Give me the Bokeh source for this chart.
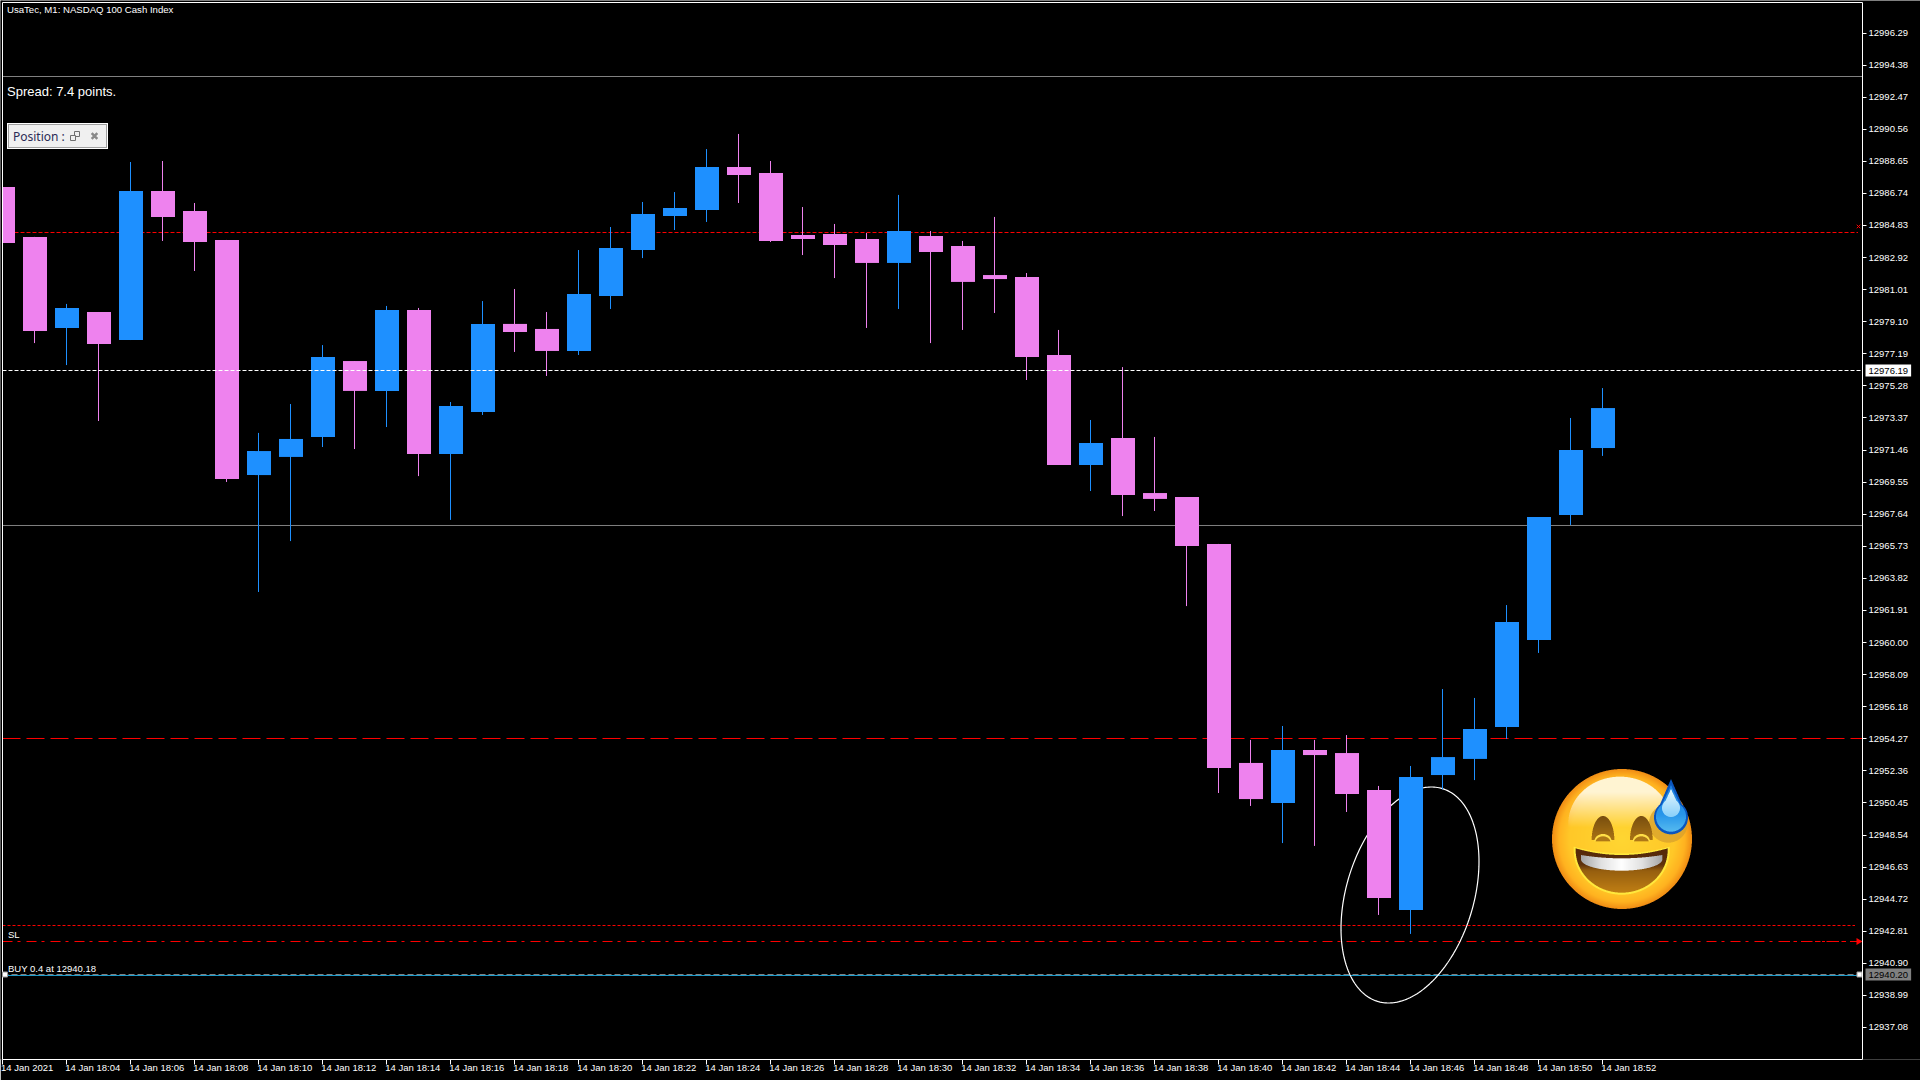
import numpy as np
from bokeh.embed import file_html
from bokeh.resources import INLINE
from bokeh.plotting import figure
from bokeh.models import LinearAxis, FixedTicker, NumeralTickFormatter, Label, Range1d

# ---------- data ----------
minutes = list(range(51))
opens = [12987.12,12984.15,12978.73,12979.68,12978.01,12986.88,12985.69,12983.97,12969.97,12971.05,12972.24,12976.76,12974.98,
         12979.80,12971.22,12973.73,12978.97,12978.67,12977.36,12980.63,12983.37,12985.40,12985.75,12988.31,12987.96,
         12984.26,12984.32,12984.03,12982.60,12984.20,12983.61,12981.88,12981.76,12977.12,12970.57,12972.18,12968.90,
         12968.66,12965.87,12952.83,12950.45,12953.60,12953.42,12951.22,12944.07,12952.11,12953.07,12954.97,12960.15,12967.59,12971.58]
highs = [12987.12,12984.15,12980.16,12979.68,12988.61,12988.67,12986.17,12983.97,12972.48,12974.20,12977.71,12976.76,12980.04,
         12979.92,12974.32,12980.33,12981.05,12979.68,12983.37,12984.74,12986.23,12986.82,12989.38,12990.28,12988.67,
         12985.93,12984.92,12984.38,12986.65,12984.50,12983.91,12985.34,12982.00,12978.61,12973.25,12976.40,12972.24,
         12968.66,12965.87,12954.20,12955.03,12954.20,12954.49,12951.46,12952.65,12957.23,12956.70,12962.23,12967.47,12973.37,12975.15]
lows = [12983.79,12977.83,12976.52,12973.19,12978.01,12983.91,12982.12,12969.56,12963.01,12966.04,12971.64,12971.52,12972.83,
        12969.91,12967.30,12973.55,12977.30,12975.87,12977.12,12979.86,12982.89,12984.56,12985.04,12986.17,12983.85,
        12983.07,12981.70,12978.73,12979.86,12977.83,12978.61,12979.62,12975.63,12970.57,12969.02,12967.53,12967.83,
        12962.17,12951.04,12950.27,12948.06,12947.89,12949.91,12943.78,12942.65,12951.26,12951.81,12954.26,12959.38,12967.00,12971.11]
closes = [12983.79,12978.55,12979.92,12977.77,12986.88,12985.34,12983.85,12969.74,12971.40,12972.12,12977.00,12974.98,12979.80,
          12971.22,12974.08,12978.97,12978.49,12977.36,12980.75,12983.49,12985.51,12985.87,12988.31,12987.84,12983.91,
          12984.03,12983.67,12982.60,12984.50,12983.25,12981.47,12981.64,12977.00,12970.57,12971.88,12968.78,12968.55,
          12965.75,12952.53,12950.68,12953.60,12953.30,12950.98,12944.79,12951.99,12953.18,12954.85,12961.22,12967.47,12971.46,12973.96]

price_ticks = [12937.08,12938.99,12940.90,12942.81,12944.72,12946.63,12948.54,12950.45,12952.36,12954.27,12956.18,12958.09,
               12960.00,12961.91,12963.82,12965.73,12967.64,12969.55,12971.46,12973.37,12975.28,12977.19,12979.10,12981.01,
               12982.92,12984.83,12986.74,12988.65,12990.56,12992.47,12994.38,12996.29]
time_ticks = list(range(0, 51, 2))
time_labels = ["14 Jan 2021","14 Jan 18:04","14 Jan 18:06","14 Jan 18:08","14 Jan 18:10","14 Jan 18:12","14 Jan 18:14",
               "14 Jan 18:16","14 Jan 18:18","14 Jan 18:20","14 Jan 18:22","14 Jan 18:24","14 Jan 18:26","14 Jan 18:28",
               "14 Jan 18:30","14 Jan 18:32","14 Jan 18:34","14 Jan 18:36","14 Jan 18:38","14 Jan 18:40","14 Jan 18:42",
               "14 Jan 18:44","14 Jan 18:46","14 Jan 18:48","14 Jan 18:50","14 Jan 18:52"]

bid_price = 12976.196
gray_levels = [12993.701, 12966.968]
upper_dotted = 12984.413
mid_dashed = 12954.286
lower_dotted = 12943.152
stop_loss = 12942.200
position_line = 12940.234
buy_price = 12940.175

BLUE = "#1E90FF"
PINK = "#EE82EE"
FONT = "Liberation Sans"

# screen pixel -> data helpers for decoration and text placement
def X(px):
    return (px - 2.5) / 32.0
def Y(py):
    return 12998.256 - 0.05954 * py

p = figure(width=1920, height=1080, output_backend="svg", toolbar_location=None,
           x_range=Range1d(X(0.5), X(1920.5)), y_range=Range1d(Y(1059.5), Y(0.5)),
           x_axis_location=None, y_axis_location="right",
           background_fill_color="#000000", border_fill_color="#000000",
           min_border_left=0, min_border_top=0, min_border_right=0, min_border_bottom=21,
           outline_line_color=None,
           styles={"position": "absolute", "left": "-0.5px", "top": "-0.5px", "box-shadow": "0 0 0 3px #000"})
p.grid.visible = False

x_l, x_r = X(2.5), X(1862.5)

ya = p.yaxis[0]
ya.fixed_location = x_r
ya.bounds = (Y(1059.5), Y(2.5))
ya.ticker = FixedTicker(ticks=price_ticks)
ya.formatter = NumeralTickFormatter(format="0.00")
ya.axis_line_color = "#ffffff"
ya.major_tick_line_color = "#ffffff"
ya.major_tick_out = 4
ya.major_tick_in = 0
ya.minor_tick_line_color = None
ya.major_label_standoff = 2
ya.major_label_text_color = "#ffffff"
ya.major_label_text_font = FONT
ya.major_label_text_font_size = "9.5px"

xt = LinearAxis(ticker=FixedTicker(ticks=time_ticks), axis_line_color="#ffffff", major_tick_line_color="#ffffff",
                major_tick_out=5, major_tick_in=0, minor_tick_line_color=None, bounds=(x_l, x_r),
                major_label_overrides={tk: "" for tk in time_ticks},
                major_label_text_font_size="1px", major_label_standoff=0)
p.add_layout(xt, "below")
label_pos = [t + (0.77 if t == 0 else 0.82) for t in time_ticks]
xl = LinearAxis(ticker=FixedTicker(ticks=label_pos), axis_line_color=None, major_tick_line_color=None,
                major_tick_out=0, major_tick_in=0, minor_tick_line_color=None,
                major_label_overrides=dict(zip(label_pos, time_labels)),
                major_label_standoff=-3, major_label_text_color="#ffffff",
                major_label_text_font=FONT, major_label_text_font_size="9.5px")
p.add_layout(xl, "below")

# background lines
for lv in gray_levels:
    p.line([x_l, x_r], [lv, lv], line_color="#808080", line_width=1)
p.line([x_l, X(1858)], [upper_dotted, upper_dotted], line_color="#ff0000", line_width=1, line_dash="4 2")
p.line([x_l, x_r], [mid_dashed, mid_dashed], line_color="#ff0000", line_width=1, line_dash="18 6")
p.line([x_l, X(1855)], [lower_dotted, lower_dotted], line_color="#ff0000", line_width=1, line_dash="3 2")
p.line([x_l, X(1858)], [stop_loss, stop_loss], line_color="#ff0000", line_width=1, line_dash="10 5 3 6")
p.line([X(1787), X(1858)], [stop_loss, stop_loss], line_color="#ff0000", line_width=1, line_dash="3 4")
p.line([x_l, x_r], [buy_price, buy_price], line_color="#1F9FD0", line_width=1)
p.line([x_l, x_r], [position_line, position_line], line_color="#808080", line_width=1, line_dash="6 3")

# hand-drawn ellipse
t = np.linspace(0, 2 * np.pi, 240)
th = np.radians(16.9)
ex = 1410 + 111.2 * np.cos(t) * np.sin(th) + 63.7 * np.sin(t) * np.cos(th)
ey = 895 - 111.2 * np.cos(t) * np.cos(th) + 63.7 * np.sin(t) * np.sin(th)
p.line(X(ex), Y(ey), line_color="#ffffff", line_width=1.2)

# candles
idx = np.array(minutes, dtype=float)
o = np.array(opens); h = np.array(highs); l = np.array(lows); c = np.array(closes)
colors = [BLUE if cc > oo else PINK for oo, cc in zip(opens, closes)]
p.segment(idx, h, idx, l, line_color=colors, line_width=1)
p.vbar(idx + 0.5 / 32, top=np.maximum(o, c), bottom=np.minimum(o, c), width=0.75,
       fill_color=colors, line_color=None)

# left strip masks the bar cut by the window edge; then the window's frame lines
p.quad(left=X(0.5), right=x_l, top=Y(0.5), bottom=Y(1059.5), fill_color="#000000", line_color=None)
p.line([x_l, x_l], [Y(2.5), Y(1059.5)], line_color="#ffffff", line_width=1)
p.line([x_l, x_r], [Y(2.5), Y(2.5)], line_color="#ffffff", line_width=1)

# bid line over candles
p.line([x_l, x_r], [bid_price, bid_price], line_color="#ffffff", line_width=1, line_dash="4 2")

# small markers
p.scatter([X(1858.5)], [stop_loss], marker="triangle", angle=-np.pi / 2, size=7, fill_color="#ff0000", line_color=None)
p.scatter([X(1858.5)], [Y(226.5)], marker="x", size=5, line_color="#ff0000", line_width=1)
p.scatter([X(5), X(1859.5)], [position_line, position_line], marker="square", size=5, fill_color="#ffffff", line_color="#999999")

# position widget
def box(x0, y0, x1, y1, fill, line=None):
    p.quad(left=X(x0), right=X(x1), top=Y(y0), bottom=Y(y1), fill_color=fill, line_color=line, line_width=1)
box(7, 123, 108, 149, "#ffffff")
box(8, 124, 107, 148, "#a0a0a0")
box(9, 125, 106, 147, "#f0f0f0")
box(74.5, 131.5, 79.5, 136.5, "#f0f0f0", "#707070")
box(70.5, 135.5, 75.5, 140.5, "#f0f0f0", "#707070")
p.scatter([X(94.5)], [Y(136)], marker="x", size=8, line_color="#8a8a8a", line_width=2.5)

def put(text, px, py, size, color="#ffffff", font=FONT):
    p.add_layout(Label(x=X(px), y=Y(py), text=text, text_color=color, text_font=font,
                       text_font_size=size, text_baseline="middle", text_align="left"))

put("UsaTec, M1:  NASDAQ 100 Cash Index", 7, 9.5, "9.6px")
put("Spread: 7.4 points.", 7, 91, "13px")
put("Position :", 13, 136.5, "12px", "#2b2b55", "Noto Sans")
put("SL", 8, 934.5, "9.5px")
put("BUY 0.4 at 12940.18", 8, 968.5, "9.5px")

# price boxes on the axis
for txt, py, bg in [("12976.19", 370.5, "#ffffff"), ("12940.20", 974.5, "#808080")]:
    p.add_layout(Label(x=X(1865.5), y=Y(py), text=txt, text_color="#000000", text_font=FONT,
                       text_font_size="9.5px", text_baseline="middle", text_align="left",
                       background_fill_color=bg, padding=3))

# emoji raster
def build_emoji():
    ss = 3
    x0, y0, w, hh = 1545, 762, 155, 153
    xs = (np.arange(w * ss) + 0.5) / ss + x0
    ys = (np.arange(hh * ss) + 0.5) / ss + y0
    xx, yy = np.meshgrid(xs, ys)
    zx = (xx - 1500) * 3
    zy = (yy - 740) * 3
    rgb = np.zeros(xx.shape + (3,))
    alpha = np.zeros(xx.shape)

    def over(mask, color):
        m = np.clip(mask, 0, 1)[..., None]
        col = np.asarray(color, dtype=float)
        if col.ndim == 1:
            col = col[None, None, :]
        rgb[:] = rgb * (1 - m) + col * m

    def ramp(v, stops):
        ps = [s[0] for s in stops]
        return np.stack([np.interp(v, ps, [s[1][k] for s in stops]) for k in range(3)], axis=-1)

    rr = np.hypot(zx - 366, zy - 297) / 210
    face = rr <= 1
    alpha[face] = 1
    over(face, ramp(rr, [(0, (255, 214, 50)), (0.75, (255, 200, 40)), (0.9, (255, 178, 32)), (1, (240, 140, 20))]))
    # highlight
    hl = (((zx - 360) / 155) ** 2 + ((zy - 250) / 140) ** 2 <= 1) & (zy < 262)
    over(hl * np.clip((262 - zy) / 105, 0, 1), (255, 244, 210))
    # drop shadow on face
    sh = (np.hypot(zx - 505, zy - 250) <= 58) & face
    over(sh * 0.75, (215, 160, 45))
    # eyes
    for cx in (309, 424):
        eye = (((zx - cx) / 34) ** 2 + ((zy - 300) / 72) ** 2 <= 1) & (zy <= 300)
        over(eye, ramp(np.clip((zy - 228) / 72, 0, 1), [(0, (120, 78, 15)), (1, (170, 115, 20))]))
        cut = (((zx - cx) / 26) ** 2 + ((zy - 304) / 22) ** 2 <= 1) & (zy <= 304)
        over(cut, (255, 222, 70))
        cut2 = (((zx - cx) / 22) ** 2 + ((zy - 306) / 17) ** 2 <= 1) & (zy <= 304)
        over(cut2, (175, 120, 22))
    # mouth
    u = (zx - 365) / 138
    inside = np.abs(u) <= 1
    s = np.sqrt(np.clip(1 - u ** 2, 0, 1))
    top = 325 + 20 * (1 - u ** 2)
    bot = 330 + 128 * s
    glow = (np.abs((zx - 365) / 144) <= 1) & (zy >= 320 + 20 * (1 - ((zx - 365) / 144) ** 2)) & \
           (zy <= 330 + 134 * np.sqrt(np.clip(1 - ((zx - 365) / 144) ** 2, 0, 1)))
    over(glow, (255, 232, 60))
    m = inside & (zy >= top) & (zy <= bot)
    over(m, ramp(np.clip((zy - 330) / 125, 0, 1), [(0, (85, 40, 10)), (0.35, (95, 50, 10)), (0.5, (150, 95, 15)), (1, (190, 125, 20))]))
    ut = (zx - 365) / 122
    tin = np.abs(ut) <= 1
    ts = np.sqrt(np.clip(1 - ut ** 2, 0, 1))
    teeth = tin & (zy >= 345 + 10 * (1 - ut ** 2)) & (zy <= 358 + 34 * ts)
    over(teeth, ramp(np.abs(ut), [(0, (255, 255, 255)), (0.5, (225, 225, 225)), (1, (165, 165, 165))]))
    # sweat drop
    cx, cy, r, tip = 513, 232, 51, 117
    def tear(cx, cy, r, tip):
        circ = np.hypot(zx - cx, zy - cy) <= r
        cone = (zy <= cy) & (zy >= tip) & (np.abs(zx - cx) <= r * (zy - tip) / (cy - tip) * 0.98)
        return circ | cone
    d = tear(cx, cy, r, tip)
    alpha[d] = 1
    over(d, (10, 85, 190))
    d2 = tear(cx, cy - 2, r - 6, tip + 18)
    over(d2, ramp(np.clip((zy - 140) / 140, 0, 1), [(0, (30, 130, 225)), (0.6, (40, 150, 235)), (1, (90, 190, 240))]))
    d3 = tear(cx, cy - 28, 27, tip + 30)
    over(d3, ramp(np.clip((zy - 147) / 90, 0, 1), [(0, (230, 248, 255)), (1, (130, 205, 250))]))

    a = alpha.reshape(hh, ss, w, ss).mean(axis=(1, 3))
    col = (rgb * alpha[..., None]).reshape(hh, ss, w, ss, 3).mean(axis=(1, 3))
    col = np.where(a[..., None] > 0, col / np.maximum(a[..., None], 1e-6), 0)
    img = np.zeros((hh, w), dtype=np.uint32)
    view = img.view(dtype=np.uint8).reshape((hh, w, 4))
    view[..., :3] = np.clip(col, 0, 255).astype(np.uint8)
    view[..., 3] = np.clip(a * 255, 0, 255).astype(np.uint8)
    return img[::-1], x0, y0, w, hh

img, ix, iy, iw, ih = build_emoji()
p.image_rgba(image=[img], x=X(ix), y=Y(iy + ih), dw=iw / 32.0, dh=ih * 0.05954)

open("out.html", "w").write(file_html(p, INLINE))
